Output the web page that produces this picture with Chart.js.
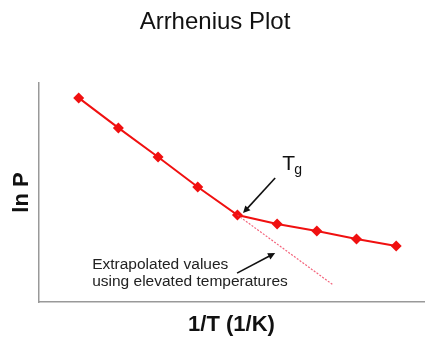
<!DOCTYPE html>
<html>
<head>
<meta charset="utf-8">
<script src="https://cdn.jsdelivr.net/npm/chart.js@4.4.1/dist/chart.umd.min.js"></script>
<style>
  html, body { margin: 0; padding: 0; background: #fff; }
  #wrap { width: 425px; height: 337px; }
</style>
</head>
<body>
<div id="wrap"><canvas id="myChart" width="425" height="337"></canvas></div>
<script>
// measured series (1/T in arbitrary steps, ln P in arbitrary units)
const invT = [1, 2, 3, 4, 5, 6, 7, 8, 9]
const lnP = [9.32, 7.95, 6.62, 5.25, 3.97, 3.56, 3.24, 2.88, 2.56]
// extrapolation of the high temperature slope past Tg
const extrapX = [5, 7.41]
const extrapY = [3.97, 0.78]

const red = 'rgb(240, 16, 16)'

const points = invT.map((x, i) => ({ x: x, y: lnP[i] }))
const extrap = extrapX.map((x, i) => ({ x: x, y: extrapY[i] }))

function arrow(ctx, x1, y1, x2, y2) {
  const a = Math.atan2(y2 - y1, x2 - x1)
  const len = 8
  ctx.beginPath()
  ctx.moveTo(x1, y1)
  ctx.lineTo(x2 - Math.cos(a) * len * 0.8, y2 - Math.sin(a) * len * 0.8)
  ctx.stroke()
  ctx.beginPath()
  ctx.moveTo(x2, y2)
  ctx.lineTo(x2 - len * Math.cos(a - 0.45), y2 - len * Math.sin(a - 0.45))
  ctx.lineTo(x2 - len * Math.cos(a + 0.45), y2 - len * Math.sin(a + 0.45))
  ctx.closePath()
  ctx.fill()
}

const notes = {
  id: 'notes',
  afterDatasetsDraw(chart) {
    const ctx = chart.ctx
    const sx = chart.scales.x, sy = chart.scales.y
    const px = v => sx.getPixelForValue(v)
    const py = v => sy.getPixelForValue(v)
    ctx.save()
    ctx.strokeStyle = '#111'
    ctx.fillStyle = '#111'
    ctx.lineWidth = 1.6
    // Tg label and arrow
    arrow(ctx, px(5.95), py(5.66), px(5.14), py(4.06))
    ctx.textBaseline = 'alphabetic'
    ctx.textAlign = 'left'
    ctx.font = '21px Arial, "Liberation Sans", sans-serif'
    ctx.fillText('T', px(6.13), py(6.03))
    ctx.font = '14px Arial, "Liberation Sans", sans-serif'
    ctx.fillText('g', px(6.13) + 12, py(6.03) + 4)
    // extrapolation note
    arrow(ctx, px(4.99), py(1.32), px(5.95), py(2.24))
    ctx.fillStyle = '#222'
    ctx.font = '15.5px Arial, "Liberation Sans", sans-serif'
    ctx.textBaseline = 'middle'
    ctx.fillText('Extrapolated values', px(1.34), py(1.69))
    ctx.fillText('using elevated temperatures', px(1.34), py(0.92))
    ctx.restore()
  }
}

new Chart(document.getElementById('myChart'), {
  type: 'scatter',
  data: {
    datasets: [
      {
        data: extrap,
        showLine: true,
        borderColor: 'rgba(240, 60, 90, 0.8)',
        borderWidth: 1.2,
        borderDash: [2, 1.5],
        pointRadius: 0
      },
      {
        data: points,
        showLine: true,
        borderColor: red,
        backgroundColor: red,
        borderWidth: 2,
        pointStyle: 'rectRot',
        pointRadius: 5.5,
        pointBorderWidth: 0
      }
    ]
  },
  options: {
    responsive: false,
    animation: false,
    layout: { autoPadding: false, padding: { left: 6, right: 1, top: 0, bottom: 0 } },
    plugins: {
      legend: { display: false },
      tooltip: { enabled: false },
      title: {
        display: true,
        text: 'Arrhenius Plot',
        color: '#111',
        font: { family: 'Arial, "Liberation Sans", sans-serif', size: 24, weight: 'normal', lineHeight: 1.2 },
        padding: { top: 7.6, bottom: 46.6 }
      }
    },
    scales: {
      x: {
        type: 'linear',
        min: 0,
        max: 9.7,
        grid: { display: false, drawTicks: false },
        ticks: { display: false },
        border: { display: true, color: '#999', width: 1.5 },
        title: {
          display: true,
          text: '1/T (1/K)',
          color: '#111',
          font: { family: 'Arial, "Liberation Sans", sans-serif', size: 22, weight: 'bold', lineHeight: 1 },
          padding: { top: 12, bottom: 1 }
        }
      },
      y: {
        type: 'linear',
        min: 0,
        max: 10,
        grid: { display: false, drawTicks: false },
        ticks: { display: false },
        border: { display: true, color: '#999', width: 1.5 },
        title: {
          display: true,
          text: 'ln P',
          color: '#111',
          font: { family: 'Arial, "Liberation Sans", sans-serif', size: 22, weight: 'bold', lineHeight: 1 },
          padding: { top: 5, bottom: 6 }
        }
      }
    }
  },
  plugins: [notes]
})
</script>
</body>
</html>
